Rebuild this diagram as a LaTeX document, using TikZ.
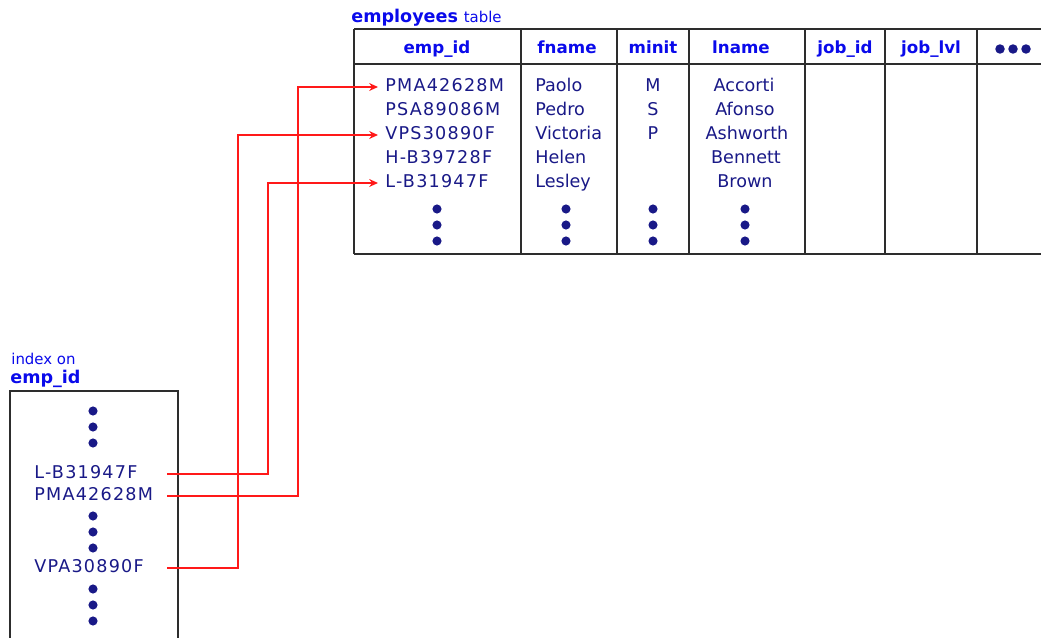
\documentclass[tikz,border=0pt]{standalone}
\usepackage{fontspec}
\setmainfont{DejaVu Sans}
\newfontfamily\keyfont[LetterSpace=7]{DejaVu Sans}
\usepackage{xcolor}
\definecolor{rowNavy}{RGB}{25, 25, 135}
\definecolor{headBlue}{RGB}{10, 10, 235}
\definecolor{linkRed}{RGB}{255, 25, 25}
\definecolor{frameGray}{RGB}{45, 45, 45}
\usetikzlibrary{arrows.meta, positioning, calc}
\tikzset{
    frameLine/.style={draw=frameGray, line width=1.1pt},
    headCell/.style={font=\bfseries\fontsize{9.5}{11}\selectfont, text=headBlue, inner sep=0pt, text height=7.5pt, text depth=2pt},
    rowCell/.style={font=\fontsize{10}{12}\selectfont, text=rowNavy, inner sep=0pt, text height=7.5pt, text depth=2pt},
    nameCell/.style={rowCell, anchor=west},
    keyCell/.style={rowCell, anchor=west, font=\keyfont\fontsize{10}{12}\selectfont},
    link/.style={draw=linkRed, line width=0.8pt},
    linkArrow/.style={link, -{Stealth[length=5pt, width=4.5pt]}},
    titleText/.style={font=\bfseries\fontsize{10}{12}\selectfont, text=headBlue, inner sep=0pt, anchor=base west}
}
% three stacked bullets, x and top y
\newcommand{\bulletCol}[2]{\foreach \k in {0,1,2} \fill[rowNavy] (#1, #2+16*\k) circle[radius=2.6pt];}

\begin{document}
\begin{tikzpicture}[x=0.02cm, y=-0.02cm]
    \useasboundingbox (0,0) rectangle (1041,638);

    % --- EMPLOYEES TABLE ---
    \node[titleText] (tabTitle) at (351,23) {employees\,\,\mdseries\fontsize{8.5}{10}\selectfont table};

    \draw[frameLine] (354,29) -- (1041,29);
    \draw[frameLine] (354,64) -- (1041,64);
    \draw[frameLine] (354,254) -- (1041,254);
    \foreach \cx in {354,521,617,689,805,885,977}
        \draw[frameLine] (\cx,29) -- (\cx,254);

    \node[headCell] (hId) at (437,49) {emp\_id};
    \node[headCell] (hFname) at (567,49) {fname};
    \node[headCell] (hMinit) at (653,49) {minit};
    \node[headCell] (hLname) at (741,49) {lname};
    \node[headCell] (hJob) at (845,49) {job\_id};
    \node[headCell] (hLvl) at (931,49) {job\_lvl};
    \foreach \hx in {1000,1013,1026} \fill[rowNavy] (\hx,49) circle[radius=2.7pt];

    % key column
    \node[keyCell] (rowPM) at (385,87) {PMA42628M};
    \node[keyCell] (rowPS) at (385,111) {PSA89086M};
    \node[keyCell] (rowVP) at (385,135) {VPS30890F};
    \node[keyCell] (rowHB) at (385,159) {H-B39728F};
    \node[keyCell] (rowLB) at (385,183) {L-B31947F};

    % other columns
    \node[nameCell] (fn1) at (535,87) {Paolo};
    \node[nameCell] (fn2) at (535,111) {Pedro};
    \node[nameCell] (fn3) at (535,135) {Victoria};
    \node[nameCell] (fn4) at (535,159) {Helen};
    \node[nameCell] (fn5) at (535,183) {Lesley};

    \node[rowCell] (mi1) at (653,87) {M};
    \node[rowCell] (mi2) at (653,111) {S};
    \node[rowCell] (mi3) at (653,135) {P};

    \node[rowCell] (ln1) at (744,87) {Accorti};
    \node[rowCell] (ln2) at (745,111) {Afonso};
    \node[rowCell] (ln3) at (747,135) {Ashworth};
    \node[rowCell] (ln4) at (746,159) {Bennett};
    \node[rowCell] (ln5) at (745,183) {Brown};

    \bulletCol{437}{209}
    \bulletCol{566}{209}
    \bulletCol{653}{209}
    \bulletCol{745}{209}

    % --- INDEX ON EMP_ID ---
    \node[titleText, font=\fontsize{8.5}{10}\selectfont] (ixTitle) at (11,365) {index on};
    \node[titleText] (ixKey) at (10,383) {emp\_id};

    \draw[frameLine] (10,640) -- (10,391) -- (178,391) -- (178,640);

    \bulletCol{93}{411}
    \node[keyCell] (ixLB) at (34,474) {L-B31947F};
    \node[keyCell] (ixPM) at (34,496) {PMA42628M};
    \bulletCol{93}{516}
    \node[keyCell] (ixVP) at (34,568) {VPA30890F};
    \bulletCol{93}{589}

    % --- POINTERS ---
    \coordinate (linkStart) at (167,0);
    \coordinate (bendLB) at (268,0);
    \coordinate (bendPM) at (298,0);
    \coordinate (bendVP) at (238,0);

    \draw[linkArrow] (ixLB.west -| linkStart) -| (bendLB |- rowLB.west) -- ([xshift=-4pt]rowLB.west);
    \draw[linkArrow] (ixPM.west -| linkStart) -| (bendPM |- rowPM.west) -- ([xshift=-4pt]rowPM.west);
    \draw[linkArrow] (ixVP.west -| linkStart) -| (bendVP |- rowVP.west) -- ([xshift=-4pt]rowVP.west);
\end{tikzpicture}
\end{document}
